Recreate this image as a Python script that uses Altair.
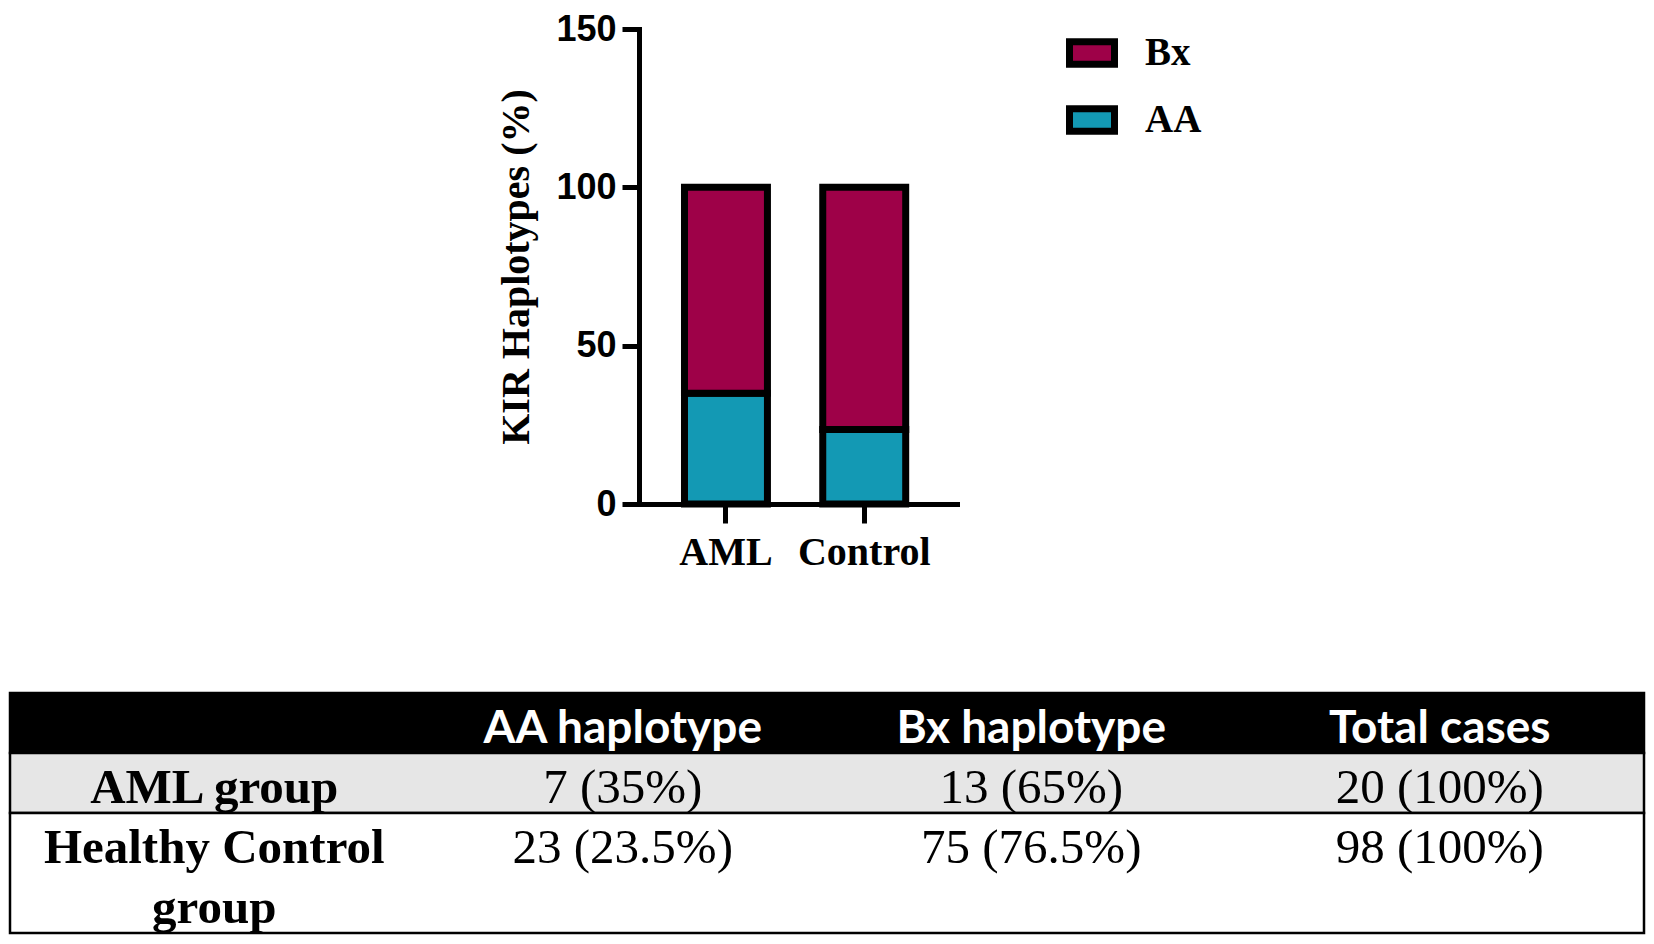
import altair as alt
import pandas as pd

# ---------------- data ----------------
groups = ["AML", "Control"]
aa_pct = [35.0, 23.5]
bx_pct = [65.0, 76.5]
haplotypes = ["Bx", "AA"]
hap_colors = ["#9E0148", "#1399B4"]
y_ticks = [0, 50, 100, 150]

col_keys = ["label", "aa", "bx", "total"]
header_texts = ["", "AA haplotype", "Bx haplotype", "Total cases"]
row_labels = [["AML group"], ["Healthy Control", "group"]]
aa_cells = ["7 (35%)", "23 (23.5%)"]
bx_cells = ["13 (65%)", "75 (76.5%)"]
total_cells = ["20 (100%)", "98 (100%)"]
row_kinds = ["header", "shaded", "plain"]
row_fills = ["#000000", "#E6E6E6", "#FFFFFF"]

# ---------------- bar chart ----------------
bar_rows = []
for g, a, b in zip(groups, aa_pct, bx_pct):
    bar_rows.append({"group": g, "type": "AA", "value": a})
    bar_rows.append({"group": g, "type": "Bx", "value": b})
bar_df = pd.DataFrame(bar_rows)

PLOT_H = 475
TOP_W = 947
AXIS_X = 629

bars = alt.Chart(bar_df).transform_calculate(
    ord="datum.type == 'AA' ? 0 : 1"
).mark_bar(stroke="black", strokeWidth=7, strokeJoin="miter").encode(
    x=alt.X("group:N", sort=groups,
            scale=alt.Scale(domain=groups, range=[AXIS_X, TOP_W],
                            paddingInner=0.4, paddingOuter=0.35, align=0.47),
            axis=alt.Axis(title=None, labelAngle=0, domainWidth=5, domainColor="black",
                          domainCap="square",
                          tickWidth=5, tickColor="black", tickSize=19,
                          labelFont="Liberation Serif", labelFontWeight="bold",
                          labelFontSize=40, labelColor="black", labelPadding=9)),
    y=alt.Y("value:Q", stack="zero",
            scale=alt.Scale(domain=[0, 150], nice=False),
            axis=alt.Axis(values=y_ticks, title="KIR Haplotypes (%)", grid=False,
                          offset=-AXIS_X,
                          domainWidth=5, domainColor="black", domainCap="square",
                          tickWidth=5, tickColor="black", tickSize=17,
                          labelFont="Liberation Sans", labelFontWeight="bold",
                          labelFontSize=36, labelColor="black", labelPadding=6,
                          titleFont="Liberation Serif", titleFontWeight="bold",
                          titleFontSize=40, titleColor="black", titlePadding=19)),
    fill=alt.Fill("type:N", scale=alt.Scale(domain=haplotypes, range=hap_colors),
                  legend=alt.Legend(title=None, orient="none", legendX=1056, legendY=-2,
                                    padding=0,
                                    symbolType="M-1,-0.5H1V0.5H-1Z", symbolSize=2025,
                                    symbolStrokeColor="black", symbolStrokeWidth=7,
                                    symbolOpacity=1,
                                    labelFont="Liberation Serif", labelFontWeight="bold",
                                    labelFontSize=39, labelColor="black", labelOffset=27,
                                    rowPadding=15)),
    order=alt.Order("ord:Q"),
).properties(width=TOP_W, height=PLOT_H)

# ---------------- table ----------------
line_counts = [1] + [len(r) for r in row_labels]
row_rects = []
start = 0
for kind, n in zip(row_kinds, line_counts):
    row_rects.append({"kind": kind, "start": start, "end": start + n})
    start += n
total_lines = start
rect_df = pd.DataFrame(row_rects)

header_df = pd.DataFrame([
    {"col": c, "line": 0, "text": t} for c, t in zip(col_keys, header_texts) if t
])

label_rows, value_rows = [], []
line0 = 1
for i, lbl in enumerate(row_labels):
    for j, part in enumerate(lbl):
        label_rows.append({"col": "label", "line": line0 + j, "text": part})
    for c, cells in zip(col_keys[1:], [aa_cells, bx_cells, total_cells]):
        value_rows.append({"col": c, "line": line0, "text": cells[i]})
    line0 += len(lbl)
label_df = pd.DataFrame(label_rows)
value_df = pd.DataFrame(value_rows)

TABLE_W = 1634
TABLE_H = 240

xcol = alt.X("col:N", scale=alt.Scale(domain=col_keys, paddingInner=0, paddingOuter=0), axis=None)
ytab = alt.Scale(domain=[0, total_lines], reverse=True, nice=False)

rects = alt.Chart(rect_df).mark_rect(stroke="black", strokeWidth=2.5).encode(
    y=alt.Y("start:Q", scale=ytab, axis=None),
    y2="end:Q",
    fill=alt.Fill("kind:N", scale=alt.Scale(domain=row_kinds, range=row_fills), legend=None),
)

def text_layer(df, **mark_kw):
    return alt.Chart(df).transform_calculate(
        ypos="datum.line + 0.83"
    ).mark_text(baseline="alphabetic", align="center", **mark_kw).encode(
        x=xcol,
        y=alt.Y("ypos:Q", scale=ytab, axis=None),
        text="text:N",
    )

header_txt = text_layer(header_df, font="Lato", fontWeight="bold", fontSize=46, color="white")
label_txt = text_layer(label_df, font="Liberation Serif", fontWeight="bold", fontSize=49, color="black")
value_txt = text_layer(value_df, font="Liberation Serif", fontSize=49, color="black")

table = alt.layer(rects, header_txt, label_txt, value_txt).resolve_scale(
    fill="independent"
).properties(width=TABLE_W, height=TABLE_H)

chart = alt.vconcat(bars, table, spacing=189, bounds="flush").resolve_scale(
    fill="independent"
).resolve_legend(fill="independent").properties(
    padding={"top": 3, "left": 0, "right": 0, "bottom": 0}
).configure(background="white", view=alt.ViewConfig(stroke="transparent", strokeWidth=0))

chart.save("out.html", embed_options={"renderer": "svg", "actions": False})
